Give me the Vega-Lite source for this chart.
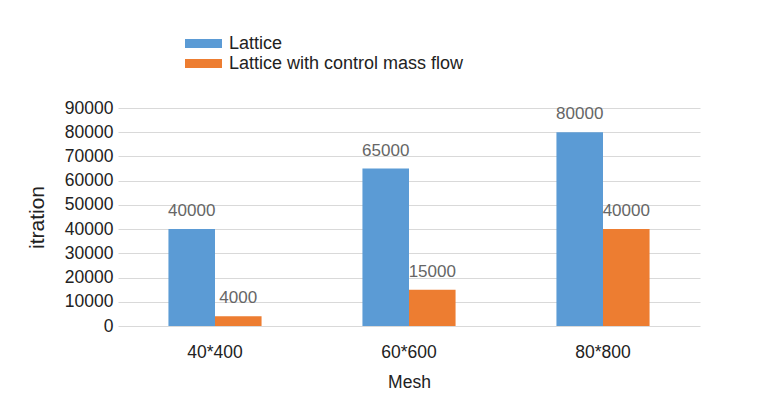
{
  "$schema": "https://vega.github.io/schema/vega-lite/v6.json",
  "autosize": {"type": "none"},
  "width": 582,
  "height": 218,
  "padding": {"left": 118, "top": 108, "right": 58, "bottom": 77},
  "background": "white",
  "config": {
    "view": {"stroke": null},
    "font": "Liberation Sans"
  },
  "data": {
    "values": [
      {"Mesh": "40*400", "series": "Lattice", "value": 40000},
      {"Mesh": "40*400", "series": "Lattice with control mass flow", "value": 4000},
      {"Mesh": "60*600", "series": "Lattice", "value": 65000},
      {"Mesh": "60*600", "series": "Lattice with control mass flow", "value": 15000},
      {"Mesh": "80*800", "series": "Lattice", "value": 80000},
      {"Mesh": "80*800", "series": "Lattice with control mass flow", "value": 40000}
    ]
  },
  "encoding": {
    "x": {
      "field": "Mesh",
      "type": "nominal",
      "sort": ["40*400", "60*600", "80*800"],
      "scale": {"paddingInner": 0.52, "paddingOuter": 0.26},
      "axis": {
        "title": "Mesh",
        "titleFont": "Liberation Sans",
        "titleFontSize": 17.5,
        "titleFontWeight": "normal",
        "titleColor": "#222222",
        "titlePadding": 13,
        "labelFontSize": 17.5,
        "labelColor": "#222222",
        "labelPadding": 17,
        "labelAngle": 0,
        "domain": false,
        "ticks": false
      }
    },
    "xOffset": {"field": "series", "type": "nominal", "sort": ["Lattice", "Lattice with control mass flow"]},
    "y": {
      "field": "value",
      "type": "quantitative",
      "scale": {"domain": [0, 90000]},
      "axis": {
        "title": "itration",
        "titleFontSize": 21,
        "titleFontWeight": "normal",
        "titleColor": "#222222",
        "titlePadding": 17,
        "labelFontSize": 17.5,
        "labelColor": "#222222",
        "labelPadding": 5,
        "values": [0, 10000, 20000, 30000, 40000, 50000, 60000, 70000, 80000, 90000],
        "format": "d",
        "domain": false,
        "ticks": false,
        "gridColor": "#d9d9d9",
        "gridWidth": 1.2
      }
    }
  },
  "layer": [
    {
      "mark": {"type": "bar"},
      "encoding": {
        "color": {
          "field": "series",
          "type": "nominal",
          "sort": ["Lattice", "Lattice with control mass flow"],
          "scale": {"range": ["#5B9BD5", "#ED7D31"]},
          "legend": {
            "title": null,
            "orient": "none",
            "legendX": 76,
            "legendY": -74,
            "symbolType": "M-2,-0.5H2V0.5H-2Z",
            "symbolSize": 342,
            "symbolStrokeWidth": 0,
            "labelFontSize": 18,
            "labelColor": "#222222",
            "labelOffset": 16,
            "labelLimit": 0,
            "rowPadding": 1
          }
        }
      }
    },
    {
      "mark": {"type": "text", "dy": -13, "baseline": "alphabetic", "fontSize": 17, "color": "#666666"},
      "encoding": {
        "text": {"field": "value", "type": "quantitative", "format": "d"}
      }
    }
  ]
}
